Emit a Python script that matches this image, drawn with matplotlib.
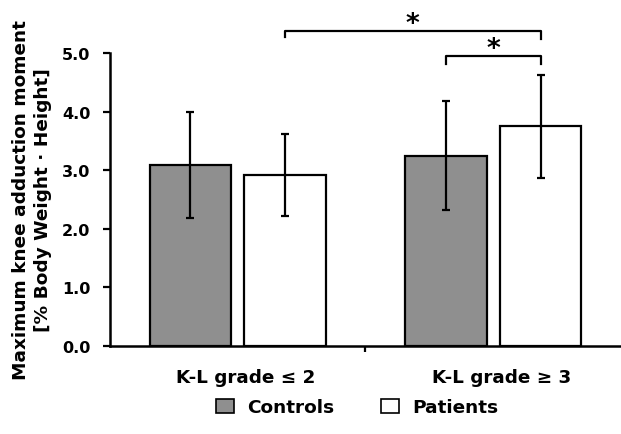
import numpy as np
import matplotlib; matplotlib.use("agg")
import matplotlib.pyplot as plt
from matplotlib.patches import Patch

plt.rcParams["font.family"] = ["DejaVu Sans"]
plt.rcParams["font.weight"] = "bold"

groups = ["K-L grade \u2264 2", "K-L grade \u2265 3"]
controls_mean = [3.09, 3.25]
controls_sd = [0.90, 0.93]
patients_mean = [2.92, 3.75]
patients_sd = [0.70, 0.88]

grey = "#8f8f8f"
fig = plt.figure(figsize=(6.21, 4.35), dpi=100)
ax = fig.add_axes([0.177, 0.202, 0.823, 0.674])

x = np.arange(len(groups))
off, w = 0.185, 0.32
ekw = dict(ecolor="black", elinewidth=1.6, capsize=3, capthick=1.6)
ax.bar(x - off, controls_mean, w, yerr=controls_sd, color=grey, edgecolor="black",
       linewidth=1.6, error_kw=ekw, label="Controls")
ax.bar(x + off, patients_mean, w, yerr=patients_sd, color="white", edgecolor="black",
       linewidth=1.6, error_kw=ekw, label="Patients")

ax.set_xlim(-0.5, 1.5)
ax.set_ylim(0, 5.0)
yt = np.arange(0, 5.01, 1.0)
ax.set_yticks(yt)
ax.set_yticklabels([f"{v:.1f}" for v in yt], fontsize=11.5, fontweight="bold")
# category labels sit slightly right of the bar-group centres in the original
ax.set_xticks(x + 0.031)
ax.set_xticklabels(groups, fontsize=13.2, fontweight="bold")
ax.set_xticks([0.5], minor=True)
ax.tick_params(axis="x", which="major", length=0, pad=16)
ax.tick_params(axis="x", which="minor", length=4, width=1.6, direction="out")
ax.tick_params(axis="y", length=5, width=1.6, direction="out", pad=9)
for s in ["top", "right"]:
    ax.spines[s].set_visible(False)
for s in ["left", "bottom"]:
    ax.spines[s].set_linewidth(1.8)

ax.set_ylabel("Maximum knee adduction moment\n[% Body Weight \u00b7 Height]",
              fontsize=13.3, fontweight="bold", labelpad=7, linespacing=1.3)

# significance brackets
def bracket(x0, x1, y, y0, y1, star_x):
    ax.plot([x0, x0, x1, x1], [y0, y, y, y1], color="black", lw=1.6, clip_on=False)
    ax.text(star_x, y - 0.005, "*", ha="center", va="baseline", fontsize=19, fontweight="bold")

bracket(0 + off, 1 + off, 5.375, 5.27, 5.24, 0.685)
bracket(1 - off, 1 + off, 4.95, 4.81, 4.81, 1.0)

handles = [Patch(facecolor=grey, edgecolor="black", linewidth=1.2, label="Controls"),
           Patch(facecolor="white", edgecolor="black", linewidth=1.2, label="Patients")]
fig.legend(handles=handles, loc="center", bbox_to_anchor=(0.575, 0.062), ncol=2, frameon=False,
           prop=dict(size=13.3, weight="bold"), handlelength=1.0, handleheight=0.8,
           columnspacing=2.5, handletextpad=0.7)

fig.savefig("out.png", dpi=100)
